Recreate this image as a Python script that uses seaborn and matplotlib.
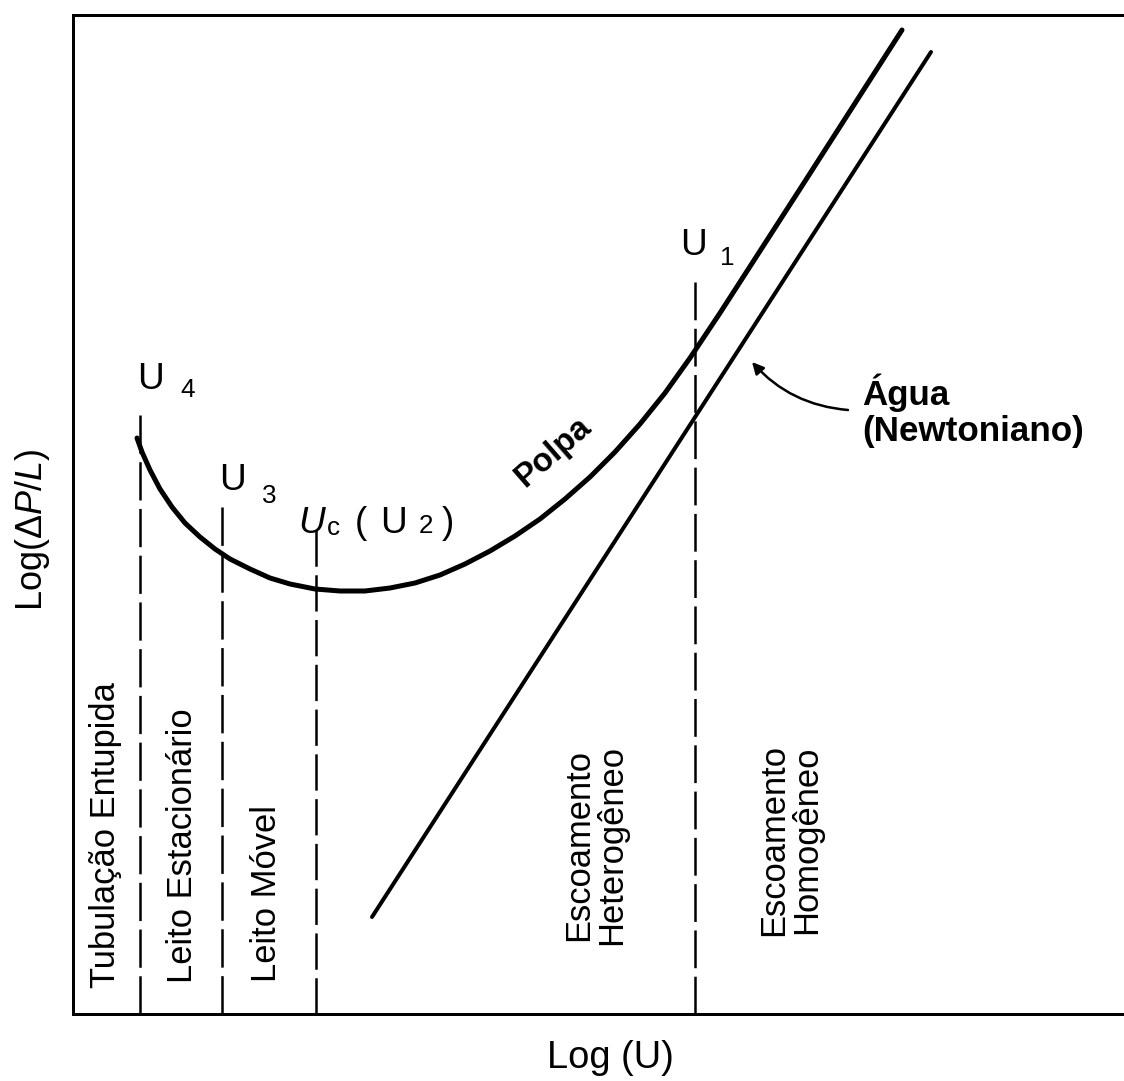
import matplotlib
matplotlib.use("Agg")
import matplotlib.pyplot as plt
import seaborn as sns
import pandas as pd

# Slurry (Polpa) pressure-gradient curve, arbitrary log units
polpa_logu = [0.64, 0.69, 0.77, 0.87, 0.99, 1.12, 1.27, 1.42, 1.57, 1.77,
              1.97, 2.17, 2.42, 2.67, 2.92, 3.17, 3.42, 3.67, 3.92, 4.17,
              4.42, 4.67, 4.92, 5.17, 5.42, 5.67, 5.92, 6.17, 6.47, 7.27, 8.29]
polpa_logdp = [5.76, 5.62, 5.44, 5.25, 5.07, 4.91, 4.77, 4.65, 4.55, 4.45,
               4.36, 4.30, 4.25, 4.23, 4.23, 4.26, 4.31, 4.39, 4.50, 4.63,
               4.78, 4.95, 5.15, 5.37, 5.62, 5.90, 6.21, 6.56, 7.01, 8.25, 9.84]

# Clear water (Newtonian) reference line
agua_logu = [2.99, 8.58]
agua_logdp = [0.97, 9.62]

# Transition velocities and the height where each marker line starts
trans_names = ["U4", "U3", "Uc", "U1"]
trans_logu = [0.67, 1.49, 2.43, 6.22]
trans_top = [5.99, 5.07, 4.84, 7.32]

# Flow regime labels
regime_labels = ["Tubulação Entupida", "Leito Estacionário", "Leito Móvel",
                 "Escoamento\nHeterogêneo", "Escoamento\nHomogêneo"]

sns.set_theme(style="white")
plt.rcParams["font.family"] = ["Liberation Sans", "DejaVu Sans"]
plt.rcParams["text.color"] = "black"
plt.rcParams["axes.labelcolor"] = "black"
plt.rcParams["mathtext.fontset"] = "custom"
plt.rcParams["mathtext.rm"] = "Liberation Sans"
plt.rcParams["mathtext.it"] = "Liberation Sans:italic"

W, H, DPI = 1124, 1081, 72
fig = plt.figure(figsize=(W / DPI, H / DPI), dpi=DPI)
fig.patch.set_facecolor("white")
left, right, bottom, top = 73, 1124, 1014, 15
ax = fig.add_axes([left / W, 1 - bottom / H, (right - left) / W, (bottom - top) / H])
ax.set_xlim(0, (right - left) / 100)
ax.set_ylim(0, (bottom - top) / 100)

df_polpa = pd.DataFrame({"logu": polpa_logu, "logdp": polpa_logdp})
df_agua = pd.DataFrame({"logu": agua_logu, "logdp": agua_logdp})
sns.lineplot(data=df_polpa, x="logu", y="logdp", sort=False, color="black",
             lw=5, ax=ax, solid_capstyle="round", solid_joinstyle="round")
sns.lineplot(data=df_agua, x="logu", y="logdp", sort=False, color="black",
             lw=4, ax=ax, solid_capstyle="round")

# Dashed transition markers; the dash length is fitted to each line so that
# both ends of every marker finish on a dash.
dash_lw, dash_len, gap_len = 2.5, 37.5, 8.5
for xv, yt in zip(trans_logu, trans_top):
    length = yt * 100.0
    n = max(1, round((length + gap_len) / (dash_len + gap_len)))
    d = (length + gap_len) / n - gap_len
    ax.plot([xv, xv], [yt, 0], color="black", lw=dash_lw,
            linestyle=(0, (d / dash_lw, gap_len / dash_lw)),
            dash_capstyle="butt")

# Transition velocity labels
big, small = 37, 26
ax.text(0.64, 6.25, "U", fontsize=big, va="baseline")
ax.text(1.07, 6.17, "4", fontsize=small, va="baseline")
ax.text(1.46, 5.24, "U", fontsize=big, va="baseline")
ax.text(1.89, 5.11, "3", fontsize=small, va="baseline")
ax.text(2.25, 4.81, "U", fontsize=big, va="baseline", style="italic")
ax.text(2.54, 4.79, "c", fontsize=small, va="baseline")
ax.text(2.82, 4.81, "(", fontsize=big, va="baseline")
ax.text(3.07, 4.81, "U", fontsize=big, va="baseline")
ax.text(3.46, 4.81, "2", fontsize=small, va="baseline")
ax.text(3.69, 4.81, ")", fontsize=big, va="baseline")
ax.text(6.07, 7.59, "U", fontsize=big, va="baseline")
ax.text(6.47, 7.49, "1", fontsize=small, va="baseline")

# Regime labels
reg_fs = 34.5
ax.text(0.33, 0.26, regime_labels[0], rotation=90, ha="center", va="bottom", fontsize=reg_fs)
ax.text(1.09, 0.31, regime_labels[1], rotation=90, ha="center", va="bottom", fontsize=reg_fs)
ax.text(1.94, 0.32, regime_labels[2], rotation=90, ha="center", va="bottom", fontsize=reg_fs)
ax.text(5.22, 1.69, regime_labels[3], rotation=90, ha="center", va="center",
        fontsize=reg_fs, linespacing=1.02, multialignment="center")
ax.text(7.17, 1.74, regime_labels[4], rotation=90, ha="center", va="center",
        fontsize=reg_fs, linespacing=1.02, multialignment="center")

# Curve names
ax.text(4.80, 5.62, "Polpa", rotation=41, ha="center", va="center",
        fontsize=33, fontweight="bold")
ax.text(7.89, 6.41, "Água\n(Newtoniano)", ha="left", va="top",
        fontsize=35, fontweight="bold", linespacing=1.12)
ax.annotate("", xy=(6.79, 6.52), xytext=(7.75, 6.04),
            arrowprops=dict(arrowstyle="-|>", color="black", lw=2.5,
                            mutation_scale=24, shrinkA=0, shrinkB=0,
                            connectionstyle="arc3,rad=-0.2"))

ax.set_xticks([])
ax.set_yticks([])
ax.set_xlabel("Log (U)", fontsize=38)
ax.set_ylabel(r"Log($\Delta$$\it{P/L}$)", fontsize=36)
ax.xaxis.set_label_coords((610 - left) / (right - left), (bottom - 1040) / (bottom - top))
ax.yaxis.set_label_coords((52 - left) / (right - left), (bottom - 530) / (bottom - top))

for side in ["left", "bottom", "top"]:
    ax.spines[side].set_color("black")
    ax.spines[side].set_linewidth(3)
ax.spines["right"].set_visible(False)

fig.savefig("out.png", dpi=DPI, facecolor="white")
